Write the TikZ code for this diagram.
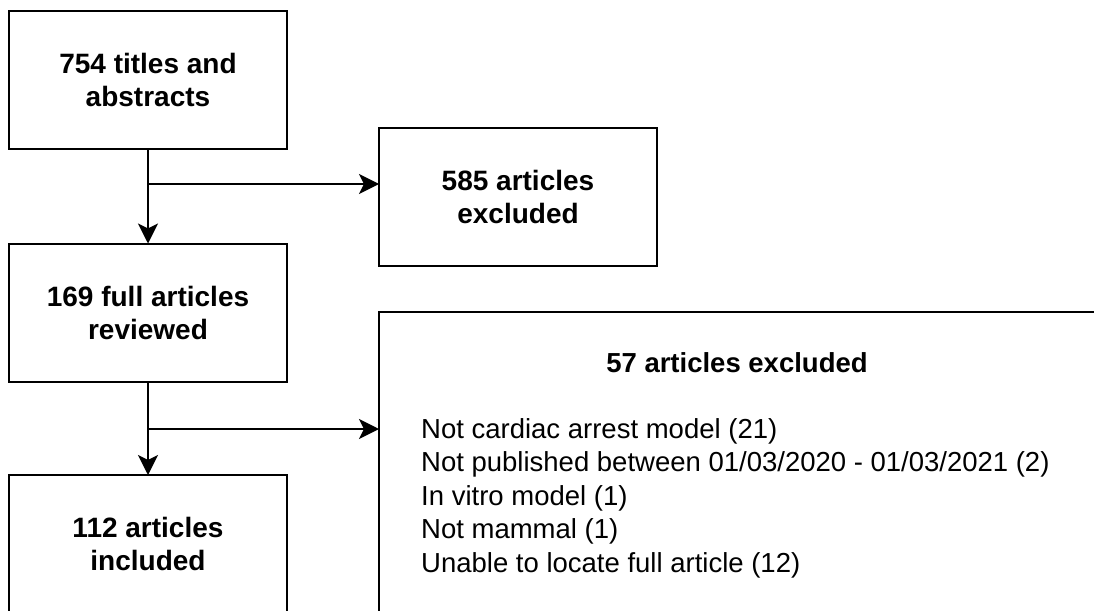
\documentclass[tikz,border=0pt]{standalone}
\usepackage{fontspec}
\setmainfont{Liberation Sans}
\usetikzlibrary{arrows.meta}
\begin{document}
\begin{tikzpicture}[x=1pt,y=-1pt,
  box/.style={draw=black,line width=2pt,rectangle,outer sep=0pt,inner sep=0pt,
    minimum width=278pt,minimum height=138pt,align=center,
    font=\bfseries\fontsize{28}{33}\selectfont},
  arr/.style={draw=black,line width=2pt,-{Stealth[length=20pt,width=20pt,inset=5pt]}},
  listline/.style={anchor=base west,inner sep=0pt,font=\fontsize{27.5}{33}\selectfont},
  headline/.style={anchor=base,inner sep=0pt,font=\bfseries\fontsize{27.5}{33}\selectfont}]
\useasboundingbox[fill=white] (0,0) rectangle (1094,610);

% main flow boxes
\node[box] (b1) at (148,80) {754 titles and\\abstracts};
\node[box] (b2) at (518,196.5) {585 articles\\excluded};
\node[box] (b3) at (148,312.5) {169 full articles\\reviewed};
\node[box] (b4) at (148,544) {112 articles\\included};

% exclusion details box
\node[draw=black,line width=2pt,rectangle,outer sep=0pt,inner sep=0pt,
  anchor=north west,minimum width=800pt,minimum height=304pt] (b5) at (379,312) {};
\node[headline] (t5) at (737,372.5) {57 articles excluded};
\node[listline] (l1) at (421,438) {Not cardiac arrest model (21)};
\node[listline] (l2) at (421,471.5) {Not published between 01/03/2020 - 01/03/2021 (2)};
\node[listline] (l3) at (421,505) {In vitro model (1)};
\node[listline] (l4) at (421,538.5) {Not mammal (1)};
\node[listline] (l5) at (421,572) {Unable to locate full article (12)};

% connectors
\coordinate (j1) at (148,184);
\coordinate (j2) at (148,429);
\draw[arr] (b1.south) -- (b3.north);
\draw[arr] (j1) -- (b2.west |- j1);
\draw[arr] (b3.south) -- (b4.north);
\draw[arr] (j2) -- (b5.west |- j2);
\end{tikzpicture}
\end{document}
